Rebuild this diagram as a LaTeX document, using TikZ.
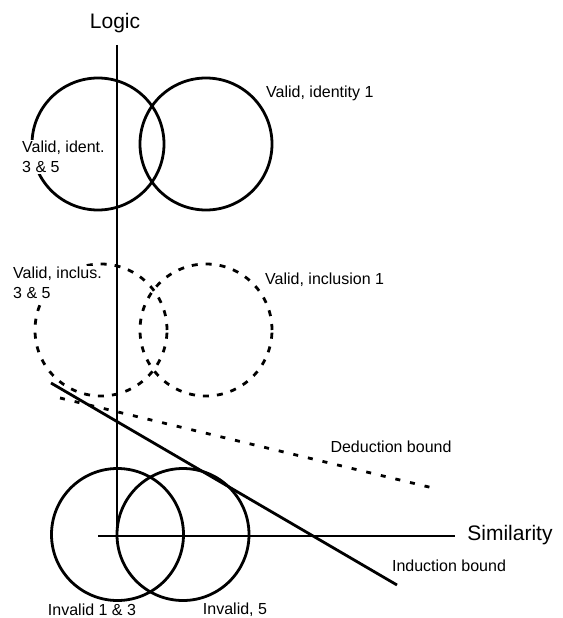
\documentclass[tikz,border=0pt]{standalone}
\usepackage{fontspec}
\setmainfont{Liberation Sans}
\begin{document}
\begin{tikzpicture}[x=1pt,y=-1pt,
  axisline/.style={line width=2.8pt},
  ring/.style={circle,draw,line width=2.8pt,minimum size=132pt,inner sep=0pt},
  dashring/.style={ring,dash pattern=on 6pt off 8pt},
  dashline/.style={line width=2.8pt,dash pattern=on 5pt off 10pt},
  lbl/.style={font=\fontsize{16}{20}\selectfont,inner sep=1pt,align=left},
  big/.style={font=\fontsize{21}{25}\selectfont,inner sep=1pt}]
\useasboundingbox (0,0) rectangle (562,618);
% circles
\node[ring] (tl) at (98,144) {};
\node[ring] (tr) at (206,144) {};
\node[dashring] (dl) at (101,330) {};
\node[dashring] (dr) at (206,330) {};
\node[ring] (bl) at (117.5,534.5) {};
\node[ring] (br) at (183,534.5) {};
% axes
\coordinate (ytop) at (117,45);
\coordinate (origin) at (117,536);
\coordinate (xleft) at (98,536);
\coordinate (xright) at (455,536);
\draw[axisline] (ytop) -- (origin);
\draw[axisline] (xleft) -- (xright);
% bounds
\coordinate (ind1) at (51,383);
\coordinate (ind2) at (397,585);
\coordinate (ded1) at (60,398);
\coordinate (ded2) at (433,488);
\draw[axisline] (ind1) -- (ind2);
\draw[dashline] (ded1) -- (ded2);
% labels
\node[big] (logic) at (115,23) {Logic};
\node[big] (sim) at (510,535) {Similarity};
\node[lbl,fill=white,anchor=west] (vi35) at (21,157) {Valid, ident.\\3 \& 5};
\node[lbl,anchor=west] (vi1) at (265,93) {Valid, identity 1};
\node[lbl,fill=white,anchor=west] (vc35) at (12,283) {Valid, inclus.\\3 \& 5};
\node[lbl,anchor=west] (vc1) at (264,280) {Valid, inclusion 1};
\node[lbl] (ded) at (391,447) {Deduction bound};
\node[lbl] (ind) at (449,566) {Induction bound};
\node[lbl] (inv13) at (92,610) {Invalid 1 \& 3};
\node[lbl] (inv5) at (235,610) {Invalid, 5};
\end{tikzpicture}
\end{document}
